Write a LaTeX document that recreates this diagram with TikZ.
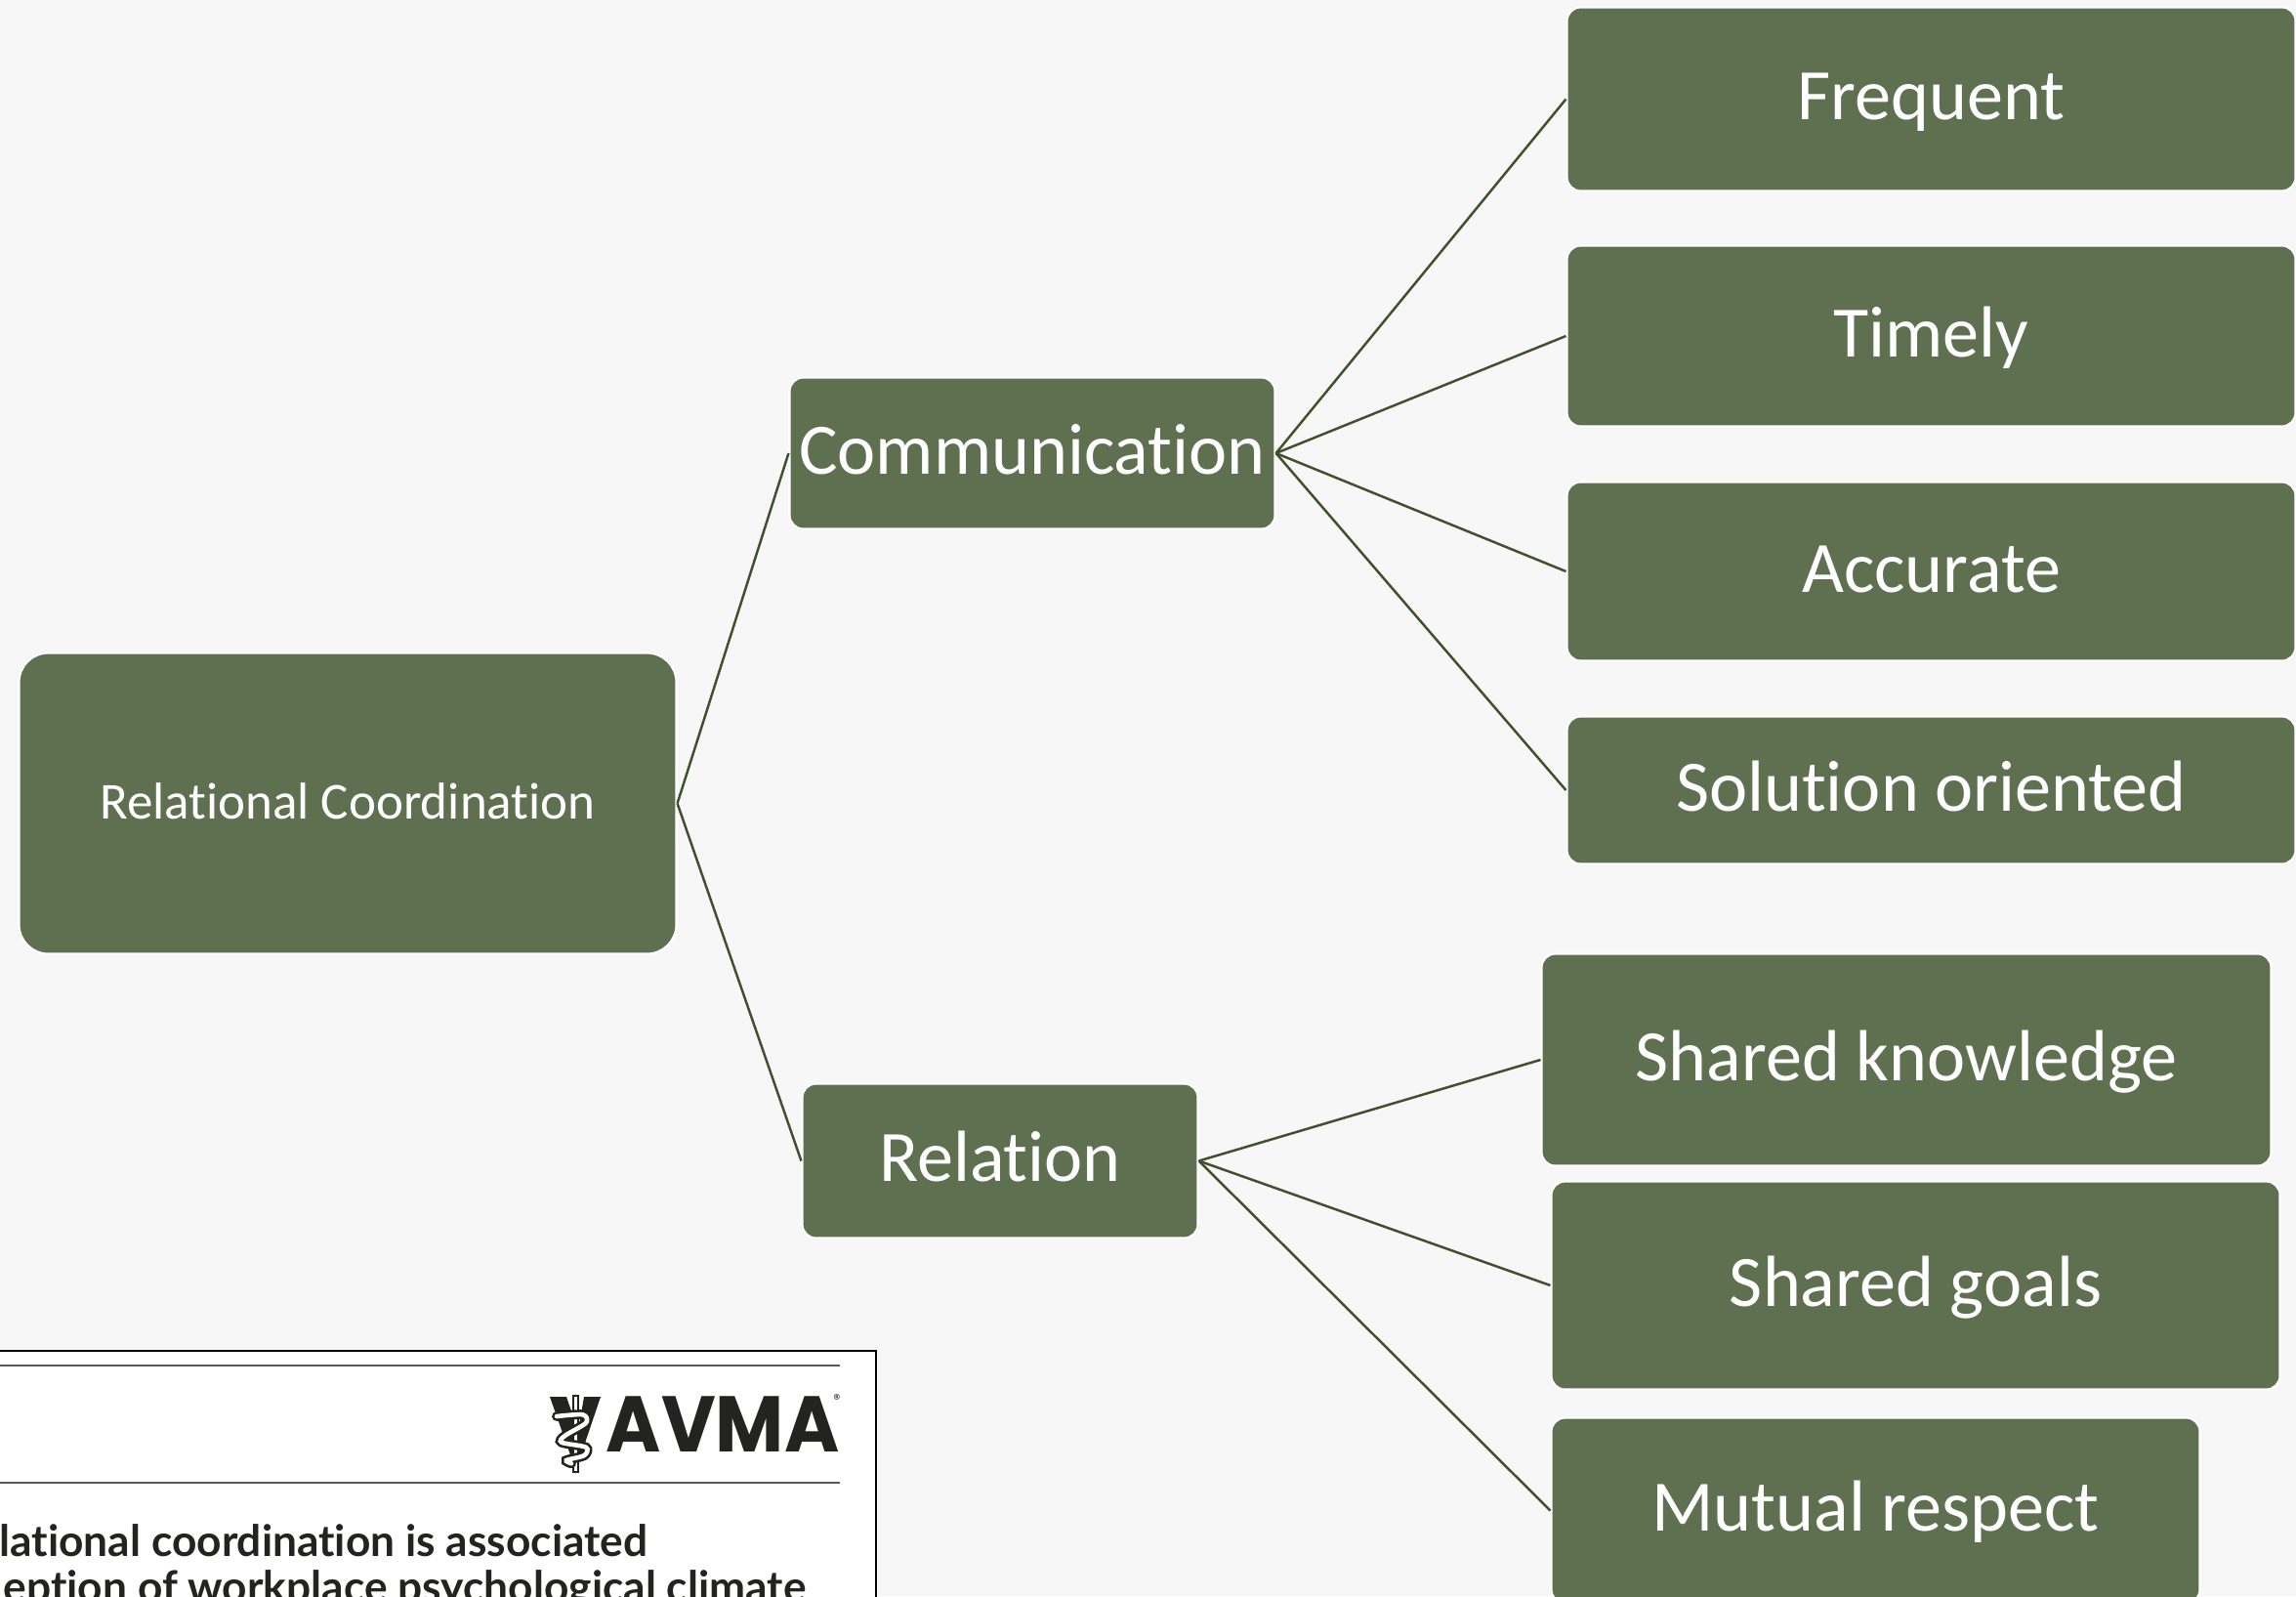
\documentclass[tikz,border=0pt]{standalone}
\usepackage{fontspec}
\setmainfont[Ligatures=NoCommon]{Carlito}
\newfontfamily\avmafont{Poppins}
\newfontfamily\clipfont[Ligatures=NoCommon]{Lato}
\definecolor{boxgreen}{RGB}{95,112,80}
\definecolor{linegreen}{RGB}{62,80,44}
\definecolor{pagegrey}{RGB}{247,247,247}
\definecolor{rulegrey}{RGB}{90,90,90}
\definecolor{inkblack}{RGB}{35,35,33}
\tikzset{
  box/.style={rectangle, rounded corners=0.14cm, fill=boxgreen, draw=white, line width=0.6pt, text=white, inner sep=0pt, text height=16.2pt, text depth=4pt, font=\fontsize{21.1}{25}\selectfont},
  rootbox/.style={box, rounded corners=0.3cm, text height=12pt, text depth=3pt, font=\fontsize{15.1}{18}\selectfont},
  link/.style={draw=linegreen, line width=0.7pt},
  cliptext/.style={anchor=base east, inner sep=0pt, text=inkblack, font=\clipfont\bfseries\fontsize{12.6}{15}\selectfont},
}
\begin{document}
\begin{tikzpicture}[y=-1cm]
\useasboundingbox (0,0) rectangle (23.51,16.34);
\clip (0,0) rectangle (23.51,16.34);
\fill [pagegrey] (0,0) rectangle (23.51,16.34);

\node (root) [rootbox, minimum width=6.73cm, minimum height=3.08cm] at (3.56,8.225) {Relational Coordination};
\node (comm) [box, minimum width=4.97cm, minimum height=1.55cm] at (10.57,4.64) {Communication};
\node (rel) [box, minimum width=4.05cm, minimum height=1.58cm] at (10.24,11.885) {Relation};
\node (freq) [box, minimum width=7.46cm, minimum height=1.88cm] at (19.775,1.015) {Frequent};
\node (timely) [box, minimum width=7.46cm, minimum height=1.85cm] at (19.775,3.44) {Timely};
\node (acc) [box, minimum width=7.46cm, minimum height=1.83cm] at (19.775,5.85) {Accurate};
\node (sol) [box, minimum width=7.46cm, minimum height=1.51cm] at (19.775,8.09) {Solution oriented};
\node (know) [box, minimum width=7.47cm, minimum height=2.17cm] at (19.52,10.85) {Shared knowledge};
\node (goals) [box, minimum width=7.46cm, minimum height=2.13cm] at (19.615,13.16) {Shared goals};
\node (resp) [box, minimum width=6.64cm, minimum height=1.90cm] at (19.205,15.465) {Mutual respect};

\draw [link] (root.east) -- (comm.west);
\draw [link] (root.east) -- (rel.west);
\draw [link] (comm.east) -- (freq.west);
\draw [link] (comm.east) -- (timely.west);
\draw [link] (comm.east) -- (acc.west);
\draw [link] (comm.east) -- (sol.west);
\draw [link] (rel.east) -- (know.west);
\draw [link] (rel.east) -- (goals.west);
\draw [link] (rel.east) -- (resp.west);

\draw [black, fill=white, line width=0.7pt] (-0.5,13.83) rectangle (8.97,17);
\draw [rulegrey, line width=0.4pt] (0,13.98) -- (8.60,13.98);
\draw [rulegrey, line width=0.4pt] (0,15.18) -- (8.60,15.18);

\fill [inkblack] (5.63,14.30) -- (5.80,14.30) -- (5.92,14.65) -- (5.98,14.30) -- (6.15,14.30) -- (5.92,14.98) -- (5.87,14.98) -- cycle;
\draw [inkblack, fill=white, line width=0.5pt] (5.87,14.29) rectangle (5.92,15.07);
\draw [inkblack, line width=2.8pt, line cap=round] plot [smooth] coordinates {(5.70,14.50) (5.967,14.483) (6.0,14.567) (5.783,14.70) (5.75,14.767) (6.0,14.817) (5.983,14.90) (5.80,14.95) (5.85,14.983)};
\draw [white, line width=1.3pt, line cap=round] plot [smooth] coordinates {(5.70,14.50) (5.967,14.483) (6.0,14.567) (5.783,14.70) (5.75,14.767) (6.0,14.817) (5.983,14.90) (5.80,14.95) (5.85,14.983)};

\node (avma) [anchor=base east, inner sep=0pt, text=inkblack, xscale=0.945, transform shape, font=\avmafont\bfseries\fontsize{23}{27}\selectfont] at (8.60,14.86) {AVMA};
\node (mark) [anchor=center, inner sep=0pt, text=inkblack, font=\avmafont\fontsize{4}{5}\selectfont] at (8.57,14.33) {®};
\node (lineone) [cliptext] at (6.64,15.93) {lational coordination is associated};
\node (linetwo) [cliptext] at (8.26,16.40) {eption of workplace psychological climate};
\end{tikzpicture}
\end{document}
